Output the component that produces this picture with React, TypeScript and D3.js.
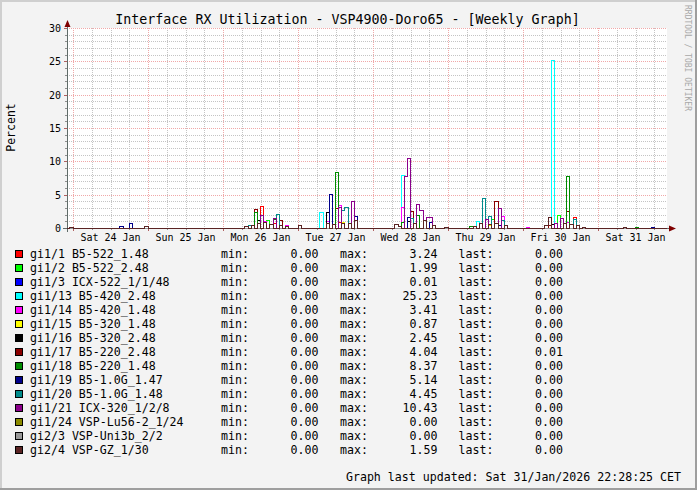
import React from 'react';
import * as d3 from 'd3';

const W = 697;
const H = 490;
const TITLE = 'Interface RX Utilization - VSP4900-Doro65 - [Weekly Graph]';
const Y_LABEL = 'Percent';
const FOOTER = 'Graph last updated: Sat 31/Jan/2026 22:28:25 CET';
const WATERMARK = 'RRDTOOL / TOBI OETIKER';

const dayLabels = ['Sat 24 Jan', 'Sun 25 Jan', 'Mon 26 Jan', 'Tue 27 Jan', 'Wed 28 Jan', 'Thu 29 Jan', 'Fri 30 Jan', 'Sat 31 Jan'];
const yTicks = [0, 5, 10, 15, 20, 25, 30];

const seriesNames = [
  'gi1/1 B5-522_1.48', 'gi1/2 B5-522_2.48', 'gi1/3 ICX-522_1/1/48', 'gi1/13 B5-420_2.48',
  'gi1/14 B5-420_1.48', 'gi1/15 B5-320_1.48', 'gi1/16 B5-320_2.48', 'gi1/17 B5-220_2.48',
  'gi1/18 B5-220_1.48', 'gi1/19 B5-1.0G_1.47', 'gi1/20 B5-1.0G_1.48', 'gi1/21 ICX-320_1/2/8',
  'gi1/24 VSP-Lu56-2_1/24', 'gi2/3 VSP-Uni3b_2/2', 'gi2/4 VSP-GZ_1/30',
];
const seriesColors = [
  '#ff0000', '#00ff00', '#0000ff', '#00ffff', '#ff00ff', '#ffff00', '#000000', '#8b0000',
  '#008c00', '#00008b', '#008b8b', '#8b008b', '#8b8b00', '#999999', '#5a2323',
];
const legendMin = [0, 0, 0, 0, 0, 0, 0, 0, 0, 0, 0, 0, 0, 0, 0];
const legendMax = [3.24, 1.99, 0.01, 25.23, 3.41, 0.87, 2.45, 4.04, 8.37, 5.14, 4.45, 10.43, 0, 0, 1.59];
const legendLast = [0, 0, 0, 0, 0, 0, 0, 0.01, 0, 0, 0, 0, 0, 0, 0];

// [hour since Sat 24 Jan 00:00, percent]
const gi1_1: [number, number][] = [[60, 3.24], [64, 0.8], [85, 0.9], [160, 1.6]];
const gi1_2: [number, number][] = [[62, 1.2], [86, 0.8], [134, 1.3], [155, 1.99]];
const gi1_3: [number, number][] = [[57, 0.01]];
const gi1_13: [number, number][] = [[79, 2.4], [105, 7.95], [129, 1.0], [145, 0.1], [153, 25.23]];
const gi1_14: [number, number][] = [[61, 1.0], [68, 0.45], [81, 1.0], [85, 3.41], [105, 3.1], [137, 1.8], [145, 0.1], [158, 0.95]];
const gi1_15: [number, number][] = [[86, 0.87], [133, 0.5]];
const gi1_16: [number, number][] = [[59, 1.2], [81, 2.45], [107, 1.0], [153, 0.6]];
const gi1_17: [number, number][] = [[58, 2.8], [66, 1.2], [84, 3.0], [108, 2.55], [135, 4.04], [152, 0.5], [158, 2.6]];
const gi1_18: [number, number][] = [[58, 2.4], [64, 1.35], [84, 8.37], [105, 0.95], [110, 1.95], [127, 0.3], [158, 7.8], [180, 0.2]];
const gi1_19: [number, number][] = [[15, 0.3], [18, 0.7], [82, 5.14], [90, 1.8], [107, 1.7], [114, 0.95], [136, 0.4], [185, 0.2]];
const gi1_20: [number, number][] = [[56, 0.45], [65, 2.1], [86, 2.7], [87, 3.15], [108, 1.45], [131, 4.45], [133, 1.8], [137, 1.2], [160, 1.3]];
const gi1_21: [number, number][] = [[60, 2.0], [64, 1.5], [85, 3.2], [89, 4.05], [106, 7.8], [107, 10.43], [110, 3.6], [111, 2.7], [113, 1.7], [114, 1.7], [132, 1.3], [136, 2.95], [154, 0.7], [156, 1.5]];
const gi1_24: [number, number][] = [];
const gi2_3: [number, number][] = [];
const gi2_4: [number, number][] = [[-1, 0.2], [23, 0.3], [55, 0.3], [57, 0.5], [59, 0.8], [61, 0.9], [63, 0.6], [66, 0.5], [68, 0.3], [72, 0.5], [81, 0.7], [83, 0.6], [86, 0.8], [88, 0.7], [90, 1.2], [103, 0.6], [104, 0.3], [109, 0.8], [112, 1.2], [115, 0.4], [119, 0.2], [128, 0.3], [130, 0.7], [133, 0.6], [135, 0.8], [138, 0.5], [151, 0.4], [152, 1.59], [157, 0.7], [159, 0.6], [161, 0.4], [163, 0.2], [176, 0.2]];

const seriesData = [gi1_1, gi1_2, gi1_3, gi1_13, gi1_14, gi1_15, gi1_16, gi1_17, gi1_18, gi1_19, gi1_20, gi1_21, gi1_24, gi2_3, gi2_4];

const PL = 67, PR = 667, PT = 28, PB = 228;
const MONO = '"DejaVu Sans Mono", monospace';

export default function App() {
  const x = d3.scaleLinear().domain([-1.92, 190.08]).range([PL, PR]);
  const y = d3.scaleLinear().domain([0, 30]).range([PB + 0.5, PT + 0.5]);

  const hours = d3.range(-2, 191);
  const line = d3.line<[number, number]>()
    .x(d => x(d[0]))
    .y(d => y(d[1]))
    .curve(d3.curveStepAfter);

  const dense = (pts: [number, number][]) => {
    const m = new Map(pts.map(p => [p[0], p[1]]));
    return hours.map(h => [h, m.get(h) ?? 0] as [number, number]);
  };

  const minorX = d3.range(0, 192, 6).filter(h => h % 24 !== 0);
  const majorX = d3.range(0, 192, 24);
  const minorY = d3.range(1, 30).filter(v => v % 5 !== 0);
  const gridC = '#c4c4c4';
  const mgridC = '#f0a8a8';
  const fmt = d3.format('.2f');

  return (
    <svg width={W} height={H} style={{ position: 'absolute', left: 0, top: 0 }} fontFamily={MONO}>
      <defs>
        <clipPath id="plotclip">
          <rect x={PL} y={PT - 1} width={PR - PL} height={PB - PT + 3} />
        </clipPath>
      </defs>
      <rect x={0} y={0} width={W} height={H} fill="#f3f3f3" />
      <rect x={0} y={0} width={W} height={2} fill="#cfcfcf" />
      <rect x={0} y={0} width={2} height={H} fill="#cfcfcf" />
      <rect x={0} y={H - 2} width={W} height={2} fill="#9e9e9e" />
      <rect x={W - 2} y={0} width={2} height={H} fill="#9e9e9e" />
      <rect x={PL} y={PT} width={PR - PL} height={PB - PT + 1} fill="#ffffff" />

      <g shapeRendering="crispEdges">
        {minorY.map(v => (
          <g key={'my' + v}>
            <line x1={PL} x2={PR} y1={y(v)} y2={y(v)} stroke={gridC} strokeDasharray="1,1" />
            <line x1={PL - 2} x2={PL} y1={y(v)} y2={y(v)} stroke="#8f8f8f" />
          </g>
        ))}
        {minorX.map(h => (
          <g key={'mx' + h}>
            <line x1={x(h) + 0.5} x2={x(h) + 0.5} y1={PT} y2={PB} stroke={gridC} strokeDasharray="1,1" />
            <line x1={x(h) + 0.5} x2={x(h) + 0.5} y1={PB} y2={PB + 2} stroke="#8f8f8f" />
          </g>
        ))}
        {yTicks.map(v => (
          <g key={'My' + v}>
            {v > 0 && <line x1={PL} x2={PR} y1={y(v)} y2={y(v)} stroke={mgridC} strokeDasharray="1,1" />}
            <line x1={PL - 3} x2={PL} y1={y(v)} y2={y(v)} stroke="#b06060" />
          </g>
        ))}
        {majorX.map(h => (
          <g key={'Mx' + h}>
            <line x1={x(h) + 0.5} x2={x(h) + 0.5} y1={PT} y2={PB} stroke={mgridC} strokeDasharray="1,1" />
            <line x1={x(h) + 0.5} x2={x(h) + 0.5} y1={PB} y2={PB + 3} stroke="#b06060" />
          </g>
        ))}
        <line x1={PL - 4} x2={PR + 5} y1={PB + 0.5} y2={PB + 0.5} stroke="#5f6b68" />
        <line x1={PL + 0.5} x2={PL + 0.5} y1={PB + 4} y2={PT - 4} stroke="#5f6b68" />
      </g>
      <polygon points={`${PL + 0.5},${PT - 8} ${PL - 2.5},${PT - 1} ${PL + 3.5},${PT - 1}`} fill="#7f0000" />
      <polygon points={`${PR + 9},${PB + 0.5} ${PR + 2},${PB - 2.5} ${PR + 2},${PB + 3.5}`} fill="#7f0000" />

      <g clipPath="url(#plotclip)" shapeRendering="crispEdges">
        {seriesData.map((pts, i) => (
          <path key={i} d={line(dense(pts)) ?? ''} fill="none" stroke={seriesColors[i]} strokeWidth={1} />
        ))}
      </g>

      <text x={347.5} y={24} textAnchor="middle" fontSize={13.3} fill="#000">{TITLE}</text>
      {yTicks.map(v => (
        <text key={'yt' + v} x={61} y={y(v) + 3.5} textAnchor="end" fontSize={10} fill="#000">{v}</text>
      ))}
      {dayLabels.map((d, i) => (
        <text key={d} x={x(i * 24 + 12)} y={241} textAnchor="middle" fontSize={10} fill="#000">{d}</text>
      ))}
      <text transform={`translate(15,127.5) rotate(-90)`} textAnchor="middle" fontSize={11.5} fill="#000">{Y_LABEL}</text>
      <text transform={`translate(685,5) rotate(90)`} fontSize={8} fill="#a8a8a8">{WATERMARK}</text>

      {seriesNames.map((name, i) => {
        const cy = 254 + i * 14;
        return (
          <g key={name} fontSize={11.6} fill="#000">
            <rect x={15.5} y={cy - 3.5} width={7} height={7} fill={seriesColors[i]} stroke="#000" strokeWidth={1} shapeRendering="crispEdges" />
            <text x={30} y={cy + 4}>{name}</text>
            <text x={221} y={cy + 4}>min:</text>
            <text x={318.5} y={cy + 4} textAnchor="end">{fmt(legendMin[i])}</text>
            <text x={340} y={cy + 4}>max:</text>
            <text x={437.5} y={cy + 4} textAnchor="end">{fmt(legendMax[i])}</text>
            <text x={458.5} y={cy + 4}>last:</text>
            <text x={563} y={cy + 4} textAnchor="end">{fmt(legendLast[i])}</text>
          </g>
        );
      })}
      <text x={681} y={481} textAnchor="end" fontSize={11.6} fill="#000">{FOOTER}</text>
    </svg>
  );
}
